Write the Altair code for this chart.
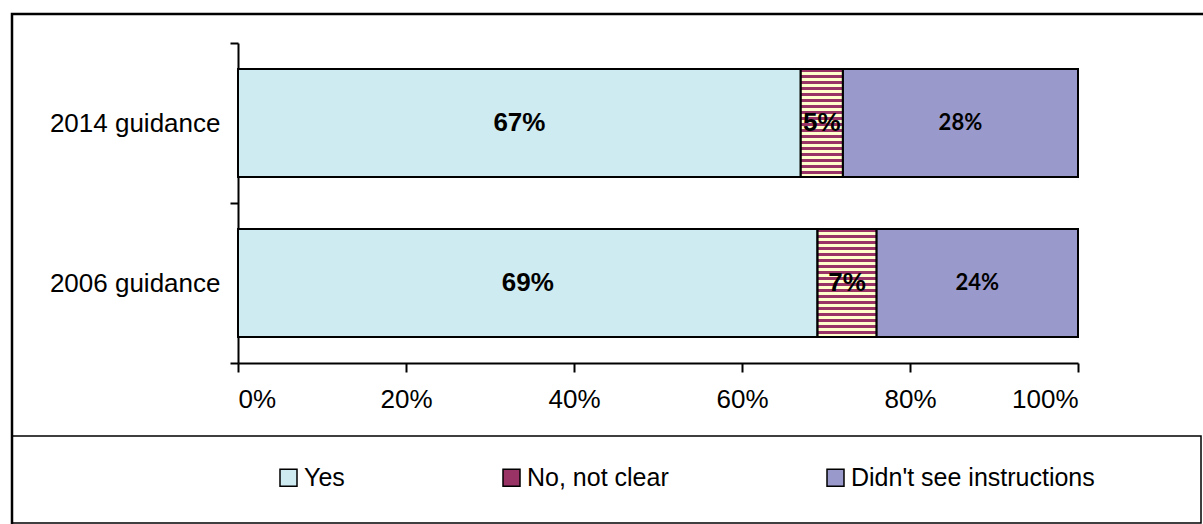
import altair as alt
import pandas as pd

# Survey answers: were the instructions clear?
guidance = ["2014 guidance", "2006 guidance"]
responses = ["Yes", "No, not clear", "Didn't see instructions"]
share_2014 = [0.67, 0.05, 0.28]
share_2006 = [0.69, 0.07, 0.24]
x_ticks = [0, 0.2, 0.4, 0.6, 0.8, 1.0]

colors = ["#CDEBF0", "#993366", "#9999CC"]
MAROON, CREAM = "#993366", "#FFFFCC"

rows = []
for g, shares in zip(guidance, [share_2014, share_2006]):
    for i, (r, v) in enumerate(zip(responses, shares)):
        rows.append({"Guidance": g, "Response": r, "Share": v, "order": i})
df = pd.DataFrame(rows)

W, H = 840, 320
LEFT, TOP = 238, 43
FONT = "Liberation Sans"
FS = 26
BAR_BAND = {"band": 0.675}

# horizontal stripes for the "No, not clear" segments
n_stripes = 18
stops = []
for k in range(n_stripes):
    a, b, c = k / n_stripes, (k + 0.55) / n_stripes, (k + 1) / n_stripes
    stops += [
        alt.GradientStop(offset=a, color=MAROON),
        alt.GradientStop(offset=b, color=MAROON),
        alt.GradientStop(offset=b, color=CREAM),
        alt.GradientStop(offset=c, color=CREAM),
    ]
stripe_fill = alt.LinearGradient(gradient="linear", stops=stops, x1=0, x2=0, y1=0, y2=1)


def stacked():
    return (
        alt.Chart(df)
        .transform_stack(
            stack="Share",
            groupby=["Guidance"],
            sort=[alt.SortField("order")],
            as_=["x0", "x1"],
        )
        .transform_calculate(mid="(datum.x0 + datum.x1) / 2")
    )


x_scale = alt.Scale(domain=[0, 1], nice=False)
x_axis = alt.Axis(
    values=x_ticks, format=".0%", title=None, grid=False,
    labelFont=FONT, labelFontSize=FS, labelColor="black", labelPadding=14,
    tickSize=9, tickColor="black", tickWidth=2,
    domainColor="black", domainWidth=2,
)
y_enc = alt.Y(
    "Guidance:N", sort=guidance,
    scale=alt.Scale(paddingInner=0, paddingOuter=0),
    axis=alt.Axis(
        title=None, tickBand="extent",
        labelFont=FONT, labelFontSize=FS, labelColor="black", labelPadding=10,
        tickSize=8, tickColor="black", tickWidth=2,
        domainColor="black", domainWidth=2,
    ),
)

bars = stacked().mark_bar(stroke="black", strokeWidth=2, height=BAR_BAND).encode(
    y=y_enc,
    x=alt.X("x0:Q", scale=x_scale, axis=x_axis),
    x2="x1:Q",
    color=alt.Color(
        "Response:N",
        scale=alt.Scale(domain=responses, range=colors),
        legend=alt.Legend(
            title=None, orient="none", direction="horizontal", columns=3,
            legendX=38, legendY=422, padding=0,
            symbolType="square", symbolSize=289,
            symbolStrokeColor="black", symbolStrokeWidth=1.5, symbolOpacity=1,
            labelFont=FONT, labelFontSize=25, labelColor="black", labelOffset=3,
            labelLimit=500, columnPadding=154,
        ),
    ),
)

stripes = (
    stacked()
    .transform_filter(alt.datum.Response == responses[1])
    .mark_bar(fill=stripe_fill, stroke="black", strokeWidth=2, height=BAR_BAND)
    .encode(y=y_enc, x=alt.X("x0:Q", scale=x_scale, axis=x_axis), x2="x1:Q")
)

labels_main = (
    stacked()
    .transform_filter(alt.datum.Response != responses[2])
    .mark_text(font=FONT, fontWeight="bold", fontSize=FS, color="black")
    .encode(
        y=y_enc,
        x=alt.X("mid:Q", scale=x_scale, axis=x_axis),
        text=alt.Text("Share:Q", format=".0%"),
    )
)

labels_other = (
    stacked()
    .transform_filter(alt.datum.Response == responses[2])
    .mark_text(font="Lato", fontWeight="bold", fontSize=22, color="black")
    .encode(
        y=y_enc,
        x=alt.X("mid:Q", scale=x_scale, axis=x_axis),
        text=alt.Text("Share:Q", format=".0%"),
    )
)

# outer chart border and legend box
blank = alt.Data(values=[{"k": 1}])
outer = alt.Chart(blank).mark_rect(fillOpacity=0, stroke="black", strokeWidth=2.5).encode(
    x=alt.value(12 - LEFT), x2=alt.value(1240 - LEFT),
    y=alt.value(14 - TOP), y2=alt.value(580 - TOP),
)
legend_box = alt.Chart(blank).mark_rect(fillOpacity=0, stroke="black", strokeWidth=1.5).encode(
    x=alt.value(12 - LEFT), x2=alt.value(1201 - LEFT),
    y=alt.value(436 - TOP), y2=alt.value(523 - TOP),
)

chart = (
    alt.layer(outer, legend_box, bars, stripes, labels_main, labels_other)
    .properties(
        width=W, height=H,
        padding={"left": LEFT, "top": TOP, "right": 1203 - LEFT - W, "bottom": 524 - TOP - H},
        autosize=alt.AutoSizeParams(type="none"),
        background="white",
    )
    .configure_view(stroke=None)
)

chart.save("out.html", embed_options={"renderer": "svg", "actions": False})
